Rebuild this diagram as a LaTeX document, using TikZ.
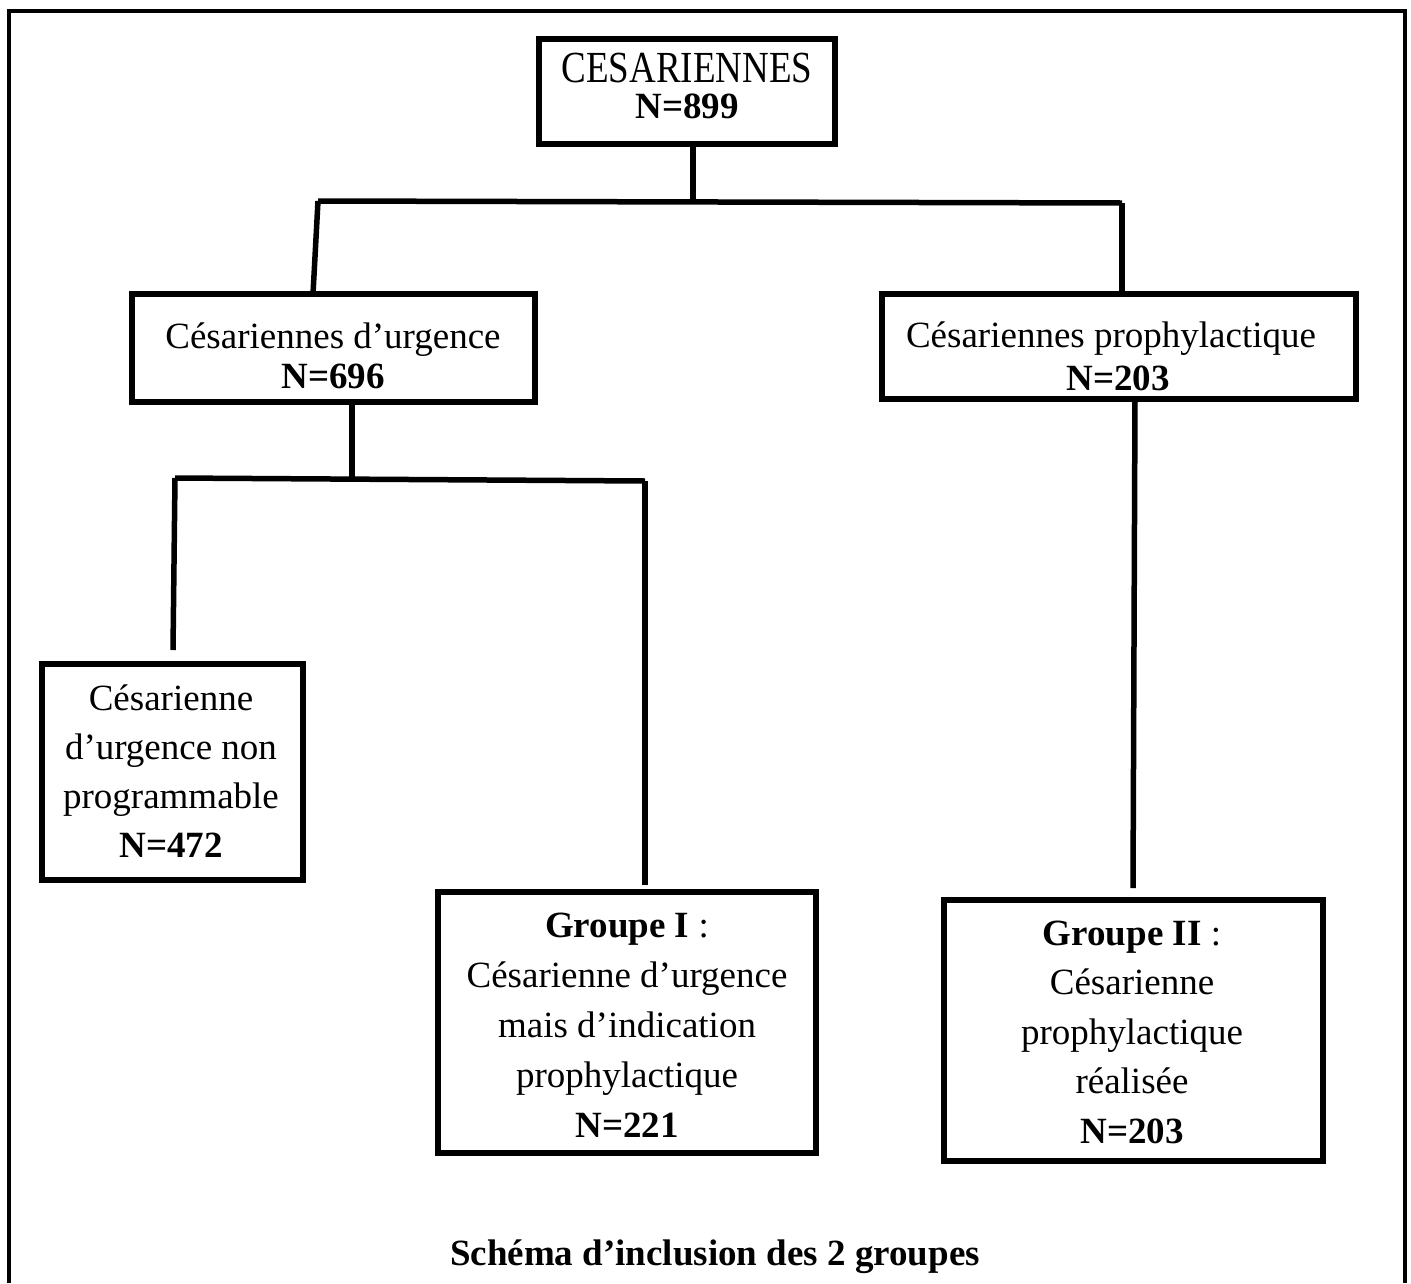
\documentclass[tikz,border=0pt]{standalone}
\usepackage{fontspec}
\setmainfont{Liberation Serif}
\begin{document}
\begin{tikzpicture}[x=1pt,y=-1pt,
  box/.style={draw, rectangle, line width=5.5pt, inner sep=0pt, outer sep=0pt},
  txt/.style={font=\fontsize{37}{#1}\selectfont, align=center, anchor=base, inner sep=0pt},
  txt/.default=50,
  conn/.style={line width=5.5pt},
  frame/.style={line width=4pt}]
\useasboundingbox (0,0) rectangle (1411,1283);
% outer frame
\draw[frame] (9,1283) -- (9,11) -- (1405,11) -- (1405,1283);
% boxes
\node[box, minimum width=296pt, minimum height=105pt] (top) at (687,91.5) {};
\node[box, minimum width=403pt, minimum height=108pt] (urg) at (333.5,348) {};
\node[box, minimum width=474pt, minimum height=105pt] (proph) at (1119,346.5) {};
\node[box, minimum width=261pt, minimum height=216pt] (nonprog) at (172.5,772) {};
\node[box, minimum width=378pt, minimum height=261pt] (g1) at (627,1022.5) {};
\node[box, minimum width=379pt, minimum height=261pt] (g2) at (1133.5,1030.5) {};
% texts (anchor base = baseline of the last line)
\node[txt=36] (topt) at (687,118) {\scalebox{1}[1.2]{CESARIENNES}\\\textbf{N=899}};
\node[txt=40] (urgt) at (333,388) {Césariennes d’urgence\\\textbf{N=696}};
\node[txt=43] (propht) at (1111,390) {Césariennes prophylactique\\\hspace*{14pt}\textbf{N=203}};
\node[txt=49] (nonprogt) at (171,857) {Césarienne\\d’urgence non\\programmable\\\textbf{N=472}};
\node[txt=50] (g1t) at (627,1137) {\textbf{Groupe I} :\\Césarienne d’urgence\\mais d’indication\\prophylactique\\\textbf{N=221}};
\node[txt=49.5] (g2t) at (1132,1143) {\textbf{Groupe II} :\\Césarienne\\prophylactique\\réalisée\\\textbf{N=203}};
\node[txt] (caption) at (715,1265) {\textbf{Schéma d’inclusion des 2 groupes}};
% connectors
\coordinate (j1) at (693,202);
\coordinate (hL) at (318,201);
\coordinate (hR) at (1122,203);
\draw[conn] (top.south -| j1) -- (j1);
\draw[conn] (hL) -- (hR);
\draw[conn] (hL) -- ([xshift=-20.5pt]urg.north);
\draw[conn] (hR) -- ([xshift=3pt]proph.north);
\coordinate (j2) at (352,478);
\coordinate (h2L) at (175,478);
\coordinate (h2R) at (645,481);
\coordinate (d1) at (173,650);
\coordinate (d2) at (645,885);
\coordinate (d3) at (1133,888);
\draw[conn] ([xshift=18.5pt]urg.south) -- (j2);
\draw[conn] (h2L) -- (h2R);
\draw[conn] (h2L) -- (d1);
\draw[conn] (h2R) -- (d2);
\draw[conn] ([xshift=16pt]proph.south) -- (d3);
\end{tikzpicture}
\end{document}
